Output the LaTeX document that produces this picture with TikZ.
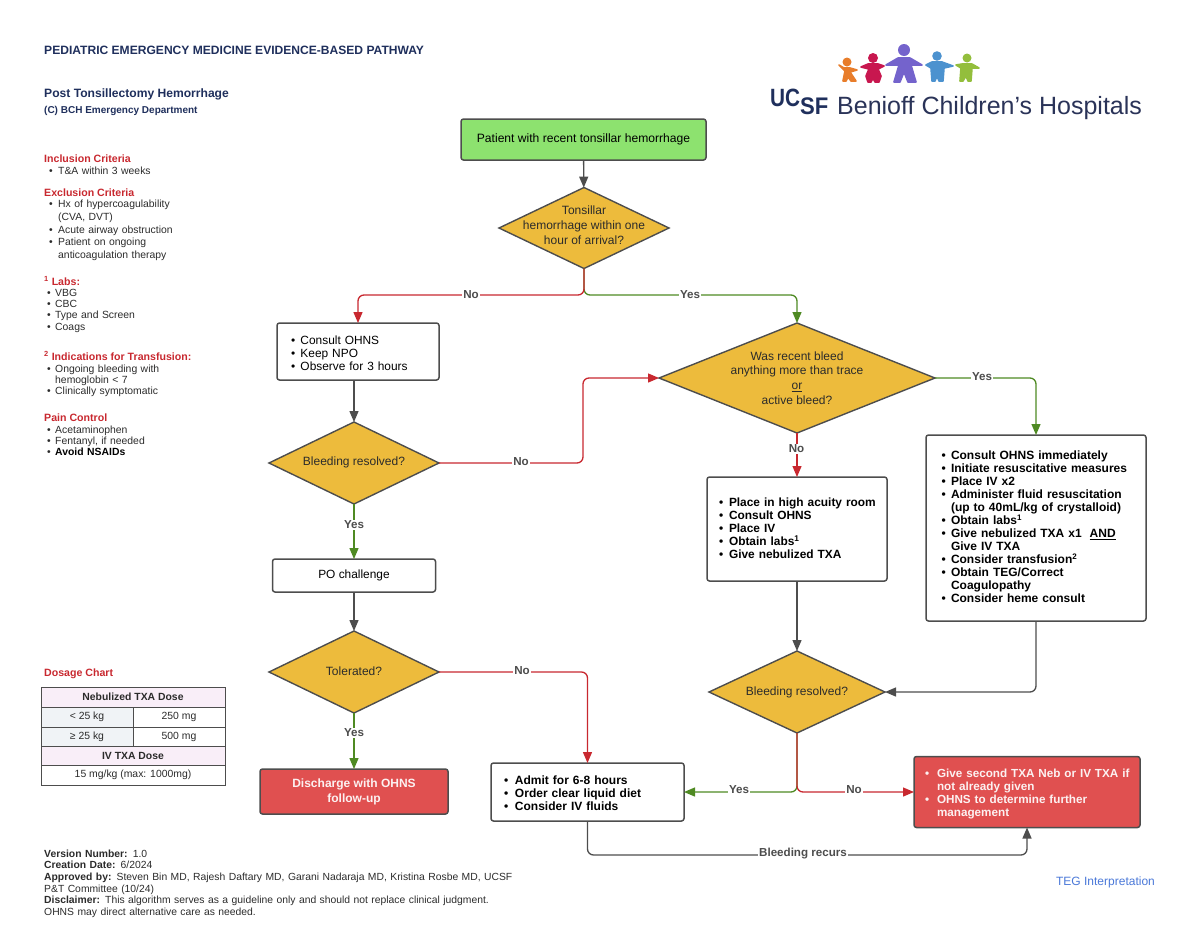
\documentclass[tikz,border=0pt]{standalone}
\usepackage{fontspec}
\setmainfont{Liberation Sans}
\usetikzlibrary{shapes.geometric}
\usetikzlibrary{arrows.meta}
\definecolor{navy}{HTML}{1F2F5C}
\definecolor{linegray}{HTML}{4D4D4D}
\definecolor{noclr}{HTML}{C8282F}
\definecolor{yesclr}{HTML}{4F8A23}
\definecolor{goldfill}{HTML}{EDBB3C}
\definecolor{startfill}{HTML}{8DE26F}
\definecolor{redfill}{HTML}{E05050}
\definecolor{headfill}{HTML}{F9EEF8}
\definecolor{kgfill}{HTML}{F0F3F6}
\definecolor{ink}{HTML}{2B2B2B}
\definecolor{logotext}{HTML}{2A3358}
\definecolor{kidorange}{HTML}{E87D2B}
\definecolor{kidred}{HTML}{C8174F}
\definecolor{kidviolet}{HTML}{7463CC}
\definecolor{kidblue}{HTML}{4C92CF}
\definecolor{kidgreen}{HTML}{93BE3C}
\definecolor{teglink}{HTML}{4A78D8}
\newlength{\bulw}
\setlength{\bulw}{10pt}
\newcommand{\itm}[1]{\par\hangindent=\bulw\hangafter=1\leavevmode\hbox to \bulw{\textbullet\hfil}#1}
\newcommand{\tailgap}[1]{\par\kern#1\hrule height 0pt width 0pt}
\tikzset{
  box/.style={draw=linegray, line width=1.5pt, fill=white, rounded corners=2.5pt, outer sep=0pt, align=left, inner ysep=0pt, font=\fontsize{11.9}{13}\selectfont\color{black}},
  decision/.style={diamond, draw=linegray, line width=1.4pt, fill=goldfill, inner sep=0pt, outer sep=0pt},
  dectext/.style={align=center, inner sep=0pt, font=\fontsize{12}{14.8}\selectfont\color{ink}},
  graylink/.style={draw=linegray, line width=1.3pt, -{Triangle[length=11pt,width=9pt]}, rounded corners=6pt},
  nolink/.style={graylink, draw=noclr, -{Triangle[length=11pt,width=9pt,fill=noclr]}},
  yeslink/.style={graylink, draw=yesclr, -{Triangle[length=11pt,width=9pt,fill=yesclr]}},
  edgelab/.style={fill=white, inner xsep=1pt, inner ysep=0.5pt, text=linegray, font=\fontsize{11.6}{13}\selectfont\bfseries},
  side/.style={anchor=north west, inner sep=0pt, align=left, text width=190pt, font=\fontsize{10.4}{11.4}\selectfont\color{ink}},
  sidehead/.style={anchor=west, inner sep=0pt, text=noclr, font=\fontsize{10.6}{12}\selectfont\bfseries},
  cell/.style={draw=linegray, line width=0.9pt, inner sep=0pt, text=ink, font=\fontsize{10.4}{12}\selectfont},
  kid/.style={line width=1.6pt, line join=round},
}
\begin{document}
\begin{tikzpicture}[x=1pt,y=-1pt]
\useasboundingbox (0,0) rectangle (1200,927);

% headings
\node[anchor=west, inner sep=0pt, text=navy, font=\fontsize{12.07}{14}\selectfont\bfseries] (title) at (44,50) {PEDIATRIC EMERGENCY MEDICINE EVIDENCE-BASED PATHWAY};
\node[anchor=west, inner sep=0pt, text=navy, font=\fontsize{12.1}{14}\selectfont\bfseries] (subtitle) at (44,94) {Post Tonsillectomy Hemorrhage};
\node[anchor=west, inner sep=0pt, text=navy, font=\fontsize{10}{12}\selectfont\bfseries] (dept) at (44,111) {(C) BCH Emergency Department};

% logo
\fill[kidorange] (847,62) circle (4.5);
\filldraw[kid, draw=kidorange, fill=kidorange] (839,65) -- (844,68) -- (850,68) -- (857,70) -- (850,72) -- (856,81) -- (851,81) -- (848,77) -- (846,81) -- (843,81) -- (845,71) -- cycle;
\fill[kidred] (873,58) circle (5);
\filldraw[kid, draw=kidred, fill=kidred] (861,67) -- (868,64) -- (878,64) -- (884,66) -- (878,69) -- (881,76) -- (879,82) -- (875,82) -- (873,78) -- (871,82) -- (868,82) -- (866,76) -- (869,69) -- cycle;
\fill[kidviolet] (904,50) circle (6);
\filldraw[kid, draw=kidviolet, fill=kidviolet] (886,65) -- (898,58) -- (910,58) -- (922,65) -- (911,65) -- (916,82) -- (908,82) -- (904,72) -- (900,82) -- (894,82) -- (899,65) -- cycle;
\fill[kidblue] (937,56) circle (4.8);
\filldraw[kid, draw=kidblue, fill=kidblue] (926,65) -- (932,62) -- (942,62) -- (953,66) -- (944,68) -- (943,81) -- (939,81) -- (937,76) -- (935,81) -- (932,81) -- (931,68) -- cycle;
\fill[kidgreen] (967,58) circle (4.5);
\filldraw[kid, draw=kidgreen, fill=kidgreen] (956,65) -- (962,64) -- (972,64) -- (979,68) -- (972,68) -- (971,81) -- (968,81) -- (966,76) -- (963,81) -- (960,81) -- (961,68) -- cycle;
\node[anchor=base west, inner sep=0pt, text=navy, xscale=0.83, font=\fontsize{25}{26}\selectfont\bfseries] (logouc) at (770,106) {UC};
\node[anchor=base west, inner sep=0pt, text=navy, xscale=0.92, font=\fontsize{24}{26}\selectfont\bfseries] (logosf) at (800,114) {SF};
\node[anchor=base west, inner sep=0pt, text=logotext, font=\fontsize{25}{26}\selectfont] (logoname) at (837,114) {Benioff Children’s Hospitals};

% left column
\node[sidehead] (inch) at (44,158.5) {Inclusion Criteria};
\node[side] (incl) at (49,162.5) {\setlength{\bulw}{9pt}\itm{T\&A within 3 weeks}\par};
\node[sidehead] (exch) at (44,192.5) {Exclusion Criteria};
\node[side, font=\fontsize{10.4}{12.6}\selectfont\color{ink}] (excl) at (49,195) {\setlength{\bulw}{9pt}\itm{Hx of hypercoagulability\newline(CVA, DVT)}\itm{Acute airway obstruction}\itm{Patient on ongoing\newline anticoagulation therapy}\par};
\node[sidehead] (labh) at (44,281) {\textsuperscript{1} Labs:};
\node[side] (labl) at (47,284.5) {\setlength{\bulw}{8pt}\itm{VBG}\itm{CBC}\itm{Type and Screen}\itm{Coags}\par};
\node[sidehead] (trah) at (44,356) {\textsuperscript{2} Indications for Transfusion:};
\node[side] (tral) at (47,360.5) {\setlength{\bulw}{8pt}\itm{Ongoing bleeding with\newline hemoglobin < 7}\itm{Clinically symptomatic}\par};
\node[sidehead] (painh) at (44,417.5) {Pain Control};
\node[side] (painl) at (47,421.5) {\setlength{\bulw}{8pt}\itm{Acetaminophen}\itm{Fentanyl, if needed}\itm{\textbf{\color{black}Avoid NSAIDs}}\par};

% dosage chart
\node[sidehead] (doseh) at (44,673.5) {Dosage Chart};
\node[cell, fill=headfill, minimum width=184pt, minimum height=20pt, font=\fontsize{10.4}{12}\selectfont\bfseries] (neb) at (133,697) {Nebulized TXA Dose};
\node[cell, fill=kgfill, minimum width=92pt, minimum height=20pt] (kga) at (87,717) {< 25 kg};
\node[cell, fill=white, minimum width=92pt, minimum height=20pt] (mga) at (179,717) {250 mg};
\node[cell, fill=kgfill, minimum width=92pt, minimum height=20pt] (kgb) at (87,737) {≥ 25 kg};
\node[cell, fill=white, minimum width=92pt, minimum height=20pt] (mgb) at (179,737) {500 mg};
\node[cell, fill=headfill, minimum width=184pt, minimum height=19pt, font=\fontsize{10.4}{12}\selectfont\bfseries] (ivh) at (133,756) {IV TXA Dose};
\node[cell, fill=white, minimum width=184pt, minimum height=20pt] (ivd) at (133,775) {15 mg/kg (max: 1000mg)};

% footer
\node[side, text width=480pt, font=\fontsize{10.35}{11.6}\selectfont\color{ink}] (foot) at (44,849.5) {\textbf{Version Number:} 1.0\\\textbf{Creation Date:} 6/2024\\\textbf{Approved by:} Steven Bin MD, Rajesh Daftary MD, Garani Nadaraja MD, Kristina Rosbe MD, UCSF\\P\&T Committee (10/24)\\\textbf{Disclaimer:} This algorithm serves as a guideline only and should not replace clinical judgment.\\OHNS may direct alternative care as needed.};
\node[anchor=center, inner sep=0pt, text=teglink, font=\fontsize{12}{13}\selectfont] (teg) at (1105.5,882) {TEG Interpretation};

% pathway nodes
\node[box, fill=startfill, minimum width=245pt, minimum height=41pt, align=center, font=\fontsize{12.1}{14}\selectfont] (start) at (583.5,139.5) {Patient with recent tonsillar hemorrhage};
\node[decision, minimum width=170pt, minimum height=81pt, label={[dectext, yshift=2.5pt]center:{Tonsillar\\hemorrhage within one\\hour of arrival?}}] (hour) at (584,228) {};
\node[box, text width=134pt, inner xsep=14pt, minimum height=57pt] (ohns) at (358,351.5) {\setlength{\bulw}{9.5pt}\itm{Consult OHNS}\itm{Keep NPO}\itm{Observe for 3 hours}\par};
\node[decision, minimum width=170pt, minimum height=82pt, label={[dectext, yshift=1pt]center:{Bleeding resolved?}}] (resa) at (354,463) {};
\node[box, minimum width=163pt, minimum height=33pt, align=center] (po) at (354,575.5) {PO challenge};
\node[decision, minimum width=170pt, minimum height=82pt, label={[dectext, yshift=1pt]center:{Tolerated?}}] (tol) at (354,672) {};
\node[box, fill=redfill, minimum width=188pt, minimum height=45pt, align=center, font=\fontsize{12}{15}\selectfont\bfseries\color{white!92!redfill}] (disch) at (354,791.5) {Discharge with OHNS\\follow-up};
\node[decision, minimum width=276pt, minimum height=110pt, label={[dectext]center:{Was recent bleed\\anything more than trace\\\underline{or}\\active bleed?}}] (bleed) at (797,378) {};
\node[box, text width=162pt, inner xsep=9pt, minimum height=104pt, font=\fontsize{11.9}{13}\selectfont\bfseries] (acuity) at (797,529) {\leftskip=3pt\setlength{\bulw}{10pt}\itm{Place in high acuity room}\itm{Consult OHNS}\itm{Place IV}\itm{Obtain labs\textsuperscript{1}}\itm{Give nebulized TXA}\tailgap{6pt}};
\node[box, text width=189pt, inner xsep=15.5pt, minimum height=186pt, font=\fontsize{12}{13}\selectfont\bfseries] (resus) at (1036,528) {\setlength{\bulw}{9.5pt}\itm{Consult OHNS immediately}\itm{Initiate resuscitative measures}\itm{Place IV x2}\itm{Administer fluid resuscitation\newline(up to 40mL/kg of crystalloid)}\itm{Obtain labs\textsuperscript{1}}\itm{Give nebulized TXA x1~~\underline{AND}\newline Give IV TXA}\itm{Consider transfusion\textsuperscript{2}}\itm{Obtain TEG/Correct\newline Coagulopathy}\itm{Consider heme consult}\tailgap{6pt}};
\node[decision, minimum width=176pt, minimum height=82pt, label={[dectext]center:{Bleeding resolved?}}] (resb) at (797,692) {};
\node[box, text width=167pt, inner xsep=13pt, minimum height=58pt, font=\fontsize{12}{13}\selectfont\bfseries] (admit) at (587.5,792) {\setlength{\bulw}{11pt}\itm{Admit for 6-8 hours}\itm{Order clear liquid diet}\itm{Consider IV fluids}\tailgap{2pt}};
\node[box, fill=redfill, text width=212pt, inner xsep=7pt, minimum height=71pt, font=\fontsize{11.7}{12.8}\selectfont\bfseries\color{white!92!redfill}] (neb2) at (1027,792) {\leftskip=4pt\setlength{\bulw}{12pt}\itm{Give second TXA Neb or IV TXA if\newline not already given}\itm{OHNS to determine further\newline management}\par};

% helper points
\coordinate (splita) at (584,295);
\coordinate (upmid) at (583,420);
\coordinate (splitb) at (797,792);
\coordinate (recur) at (803,855);

% connectors
\draw[graylink] (start) -- (hour);
\draw[yeslink] (hour.south) -- (splita) -| (bleed.north);
\draw[nolink] (hour.south) -- (splita) -| (ohns.north);
\draw[graylink] (ohns.south -| resa.north) -- (resa.north);
\draw[nolink] (resa.east) -| (upmid) |- (bleed.west);
\draw[yeslink] (resa.south) -- (po.north);
\draw[graylink] (po.south) -- (tol.north);
\draw[yeslink] (tol.south) -- (disch.north);
\draw[nolink] (tol.east) -| (admit.north);
\draw[yeslink] (bleed.east) -| (resus.north);
\draw[nolink] (bleed.south) -- (acuity.north);
\draw[graylink] (acuity.south) -- (resb.north);
\draw[graylink] (resus.south) |- (resb.east);
\draw[yeslink] (resb.south) -- (splitb) -- (admit.east);
\draw[nolink] (resb.south) -- (splitb) -- (neb2.west);
\draw[graylink] (admit.south) |- (recur) -| (neb2.south);

% connector labels
\node[edgelab] (lbla) at (471,295) {No};
\node[edgelab] (lblb) at (690,295) {Yes};
\node[edgelab] (lblc) at (521,461.5) {No};
\node[edgelab] (lbld) at (354,525) {Yes};
\node[edgelab] (lble) at (522,670.5) {No};
\node[edgelab] (lblf) at (354,733) {Yes};
\node[edgelab] (lblg) at (982,376.5) {Yes};
\node[edgelab] (lblh) at (796.5,449) {No};
\node[edgelab] (lbli) at (739,790) {Yes};
\node[edgelab] (lblj) at (854,790) {No};
\node[edgelab] (lblk) at (803,853.5) {Bleeding recurs};
\end{tikzpicture}
\end{document}
